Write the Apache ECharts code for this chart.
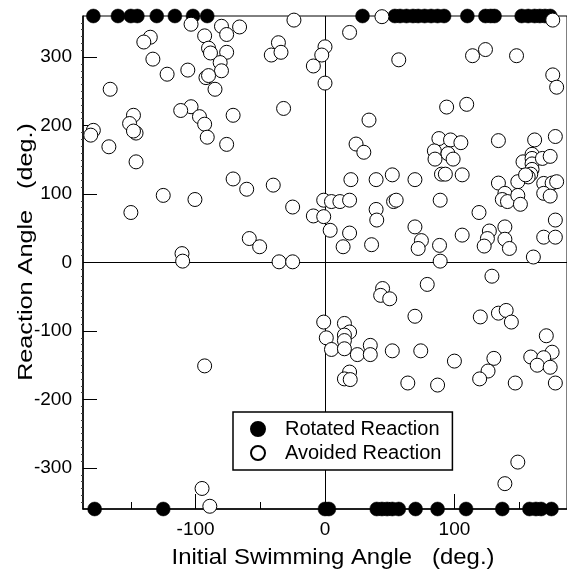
<!DOCTYPE html>
<html>
<head>
<meta charset="utf-8">
<script src="https://cdn.jsdelivr.net/npm/echarts@6/dist/echarts.min.js"></script>
<style>
html,body{margin:0;padding:0;background:#fff;overflow:hidden;}
#chart{width:567px;height:572px;}
</style>
</head>
<body>
<div id="chart"></div>
<script>
// ---- data ----
var xTickLabels = [-100, 0, 100];
var xMinorTicks = [-150, -50, 50, 150];
var yTickLabels = [-300, -200, -100, 0, 100, 200, 300];

var rotatedTopX = [-179,-160,-150,-145,-130,-116,-102,-91,29,54,58,63,68,72,77,82,87,92,110,124,128,131,152,157,162,166,170,174];
var rotatedBottomX = [-178,-125,0,3,40,44,48,52,57,70,87,109,137,158,163,167,175];

var avoided = [
  // upper left
  [-103.5,348],[-80,345],[-66,344],[-76,333],[-93,331],[-135,329],[-140,322],[-24,354],[-36,321],[-41.5,303],
  [-34,307],[-90,313],[-88.5,306],[-76,307],[-133,297],[-81,292],[-80,280],[-106,281],[-122,275],[-92,270],
  [-90,273],[-85,253],[-166,253],[-9,287],[0,315],[-2.5,303],[0,262],[-32,225],[-103.5,227.5],[-111.5,222],
  [-97,213],[-93,202],[-71,215],[-91,183],[-76,172.5],[-148,215],[-151,203],[-146,189],[-148,192],[-179,193],
  [-181,186],[-167,169],[-146,147],[-71,122],[-60.5,107],[-40,113],[-125,98],[-100.5,92],[-150,73],[-25,81],
  [-9,68],[-1,91],[-58.5,35],[-50.5,23],[-110.5,13],[-110,2],[-35.5,1],[-25,1],
  // upper right
  [19,336],[57,296],[114,302],[124,311],[148,302],[176,354],[44,359],[176,274],[179,256],[94,227],
  [109.5,231],[34,208],[24,173],[30,161],[88,181],[97,179],[105,175],[84.5,163],[95,159],[85,151],
  [99,151],[134,178],[162,179],[178,184],[160,158],[153,147],[160,152],[160,144],[160,136],[159,129],
  [157,125],[168,152],[174,155],[90,129],[93,129],[106,128],[20,121],[39.5,121],[52,128],[69.5,121],
  [134,116],[149,118],[155,128],[169,115.5],[175.5,116],[179,118],[169,101],[174,97],[139,101],[137,92],
  [141,89],[149,98],[151,85],[5,89],[11.5,89],[19,91],[39.5,77.5],[40,62],[53,89],[55,91],
  [89,91],[119,73],[-1,67],[4,47],[19,43],[14,23],[36,26],[69.5,52],[74.5,32],[72,20.5],
  [88.5,25],[89,2],[106,40],[127,46],[125.5,35],[123,24],[139,52],[139,34],[142.5,20.5],[161,8],
  [169,37],[178,37],[178,62],
  // lower left
  [-93,-151],[-95,-330],[-89,-356],
  // lower right
  [129,-20],[79,-32],[44.5,-38],[43,-48],[50,-53],[69.5,-78.5],[-1,-87],[1,-110],[5,-127],[15,-89],
  [19,-101.5],[15,-106],[15,-114],[15,-126],[25,-134.5],[35,-121],[35,-134.5],[52,-129],[74,-129],[100,-144],
  [19,-160],[15,-170],[19.5,-171],[64,-176],[87,-179],[120,-79.5],[134,-74],[140,-70],[144,-87],[130.5,-140],
  [126,-158.5],[119.5,-170],[147,-176],[171,-107],[175.5,-131],[159,-138],[169,-139],[164,-150],[174,-153],[178,-176],
  [149,-291.5],[139,-323]
];

var rotated = rotatedTopX.map(function(x){return [x, 360];})
  .concat(rotatedBottomX.map(function(x){return [x, -360];}));

var yMinor = [];
for (var v = -350; v <= 350; v += 10) { if (v % 100 !== 0) yMinor.push(v); }

var FONT = '"Liberation Sans", Arial, sans-serif';
var chart = echarts.init(document.getElementById('chart'));
chart.setOption({
  animation: false,
  backgroundColor: '#fff',
  grid: {left: 83, top: 16, width: 490, height: 493, show: true, borderColor: '#000', borderWidth: 1, backgroundColor: 'transparent'},
  xAxis: [{
    type: 'value', min: -187, max: 187, position: 'bottom',
    axisLine: {onZero: false, lineStyle: {color: '#000', width: 1.5}},
    axisTick: {inside: true, length: 15, customValues: xTickLabels, lineStyle: {color: '#000', width: 1}},
    axisLabel: {customValues: xTickLabels, fontSize: 19, color: '#000', fontFamily: FONT, margin: 11},
    splitLine: {show: false}
  }, {
    type: 'value', min: -187, max: 187, position: 'bottom',
    axisLine: {show: false, onZero: false},
    axisTick: {inside: true, length: 7, customValues: xMinorTicks, lineStyle: {color: '#000', width: 1}},
    axisLabel: {show: false},
    splitLine: {show: false}
  }],
  yAxis: [{
    type: 'value', min: -360, max: 360, position: 'left',
    axisLine: {onZero: false, lineStyle: {color: '#000', width: 1.5}},
    axisTick: {inside: true, length: 14, customValues: yTickLabels, lineStyle: {color: '#000', width: 1}},
    axisLabel: {customValues: yTickLabels, fontSize: 19, color: '#000', fontFamily: FONT, margin: 11},
    splitLine: {show: false}
  }, {
    type: 'value', min: -360, max: 360, position: 'left',
    axisLine: {show: false, onZero: false},
    axisTick: {inside: false, length: 2, customValues: yMinor, lineStyle: {color: '#444', width: 1}},
    axisLabel: {show: false},
    splitLine: {show: false}
  }],
  legend: {
    orient: 'vertical', left: 233, top: 412,
    itemWidth: 14, itemHeight: 14, itemGap: 4,
    padding: [7, 11, 7, 17],
    borderColor: '#000', borderWidth: 1.5, backgroundColor: '#fff',
    textStyle: {fontSize: 20, color: '#000', fontFamily: FONT, padding: [0, 0, 0, 15]},
    data: [{name: 'Rotated Reaction', icon: 'circle'}, {name: 'Avoided Reaction', icon: 'circle'}]
  },
  graphic: [{
    type: 'text', x: 333, y: 558, scaleX: 1.087,
    style: {text: 'Initial Swimming Angle   (deg.)', font: '22px ' + FONT, fill: '#000', textAlign: 'center', textVerticalAlign: 'middle'}
  }, {
    type: 'text', x: 26, y: 252, rotation: Math.PI / 2, scaleX: 1.2,
    style: {text: 'Reaction Angle   (deg.)', font: '21px ' + FONT, fill: '#000', textAlign: 'center', textVerticalAlign: 'middle'}
  }],
  series: [{
    name: 'Rotated Reaction', type: 'scatter', xAxisIndex: 0, yAxisIndex: 0, clip: false,
    symbol: 'circle', symbolSize: 14,
    itemStyle: {color: '#000', borderColor: '#000', borderWidth: 0.5, opacity: 1},
    data: rotated, z: 3
  }, {
    name: 'Avoided Reaction', type: 'scatter', xAxisIndex: 0, yAxisIndex: 0, clip: false,
    symbol: 'circle', symbolSize: 14,
    itemStyle: {color: '#fff', borderColor: '#000', borderWidth: 1, opacity: 1},
    data: avoided, z: 4,
    markLine: {
      silent: true, symbol: 'none', animation: false,
      label: {show: false},
      lineStyle: {color: '#000', width: 1, type: 'solid', opacity: 1},
      data: [{xAxis: 0}, {yAxis: 0}],
      z: 1
    }
  }]
});
</script>
</body>
</html>
